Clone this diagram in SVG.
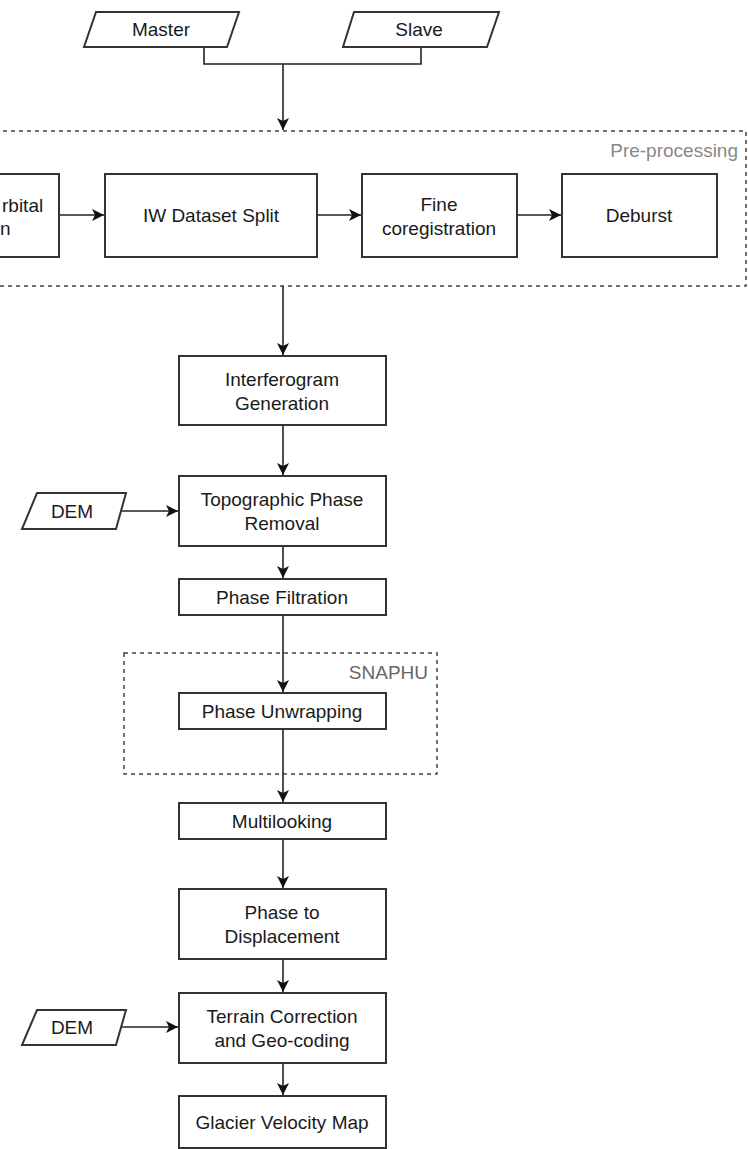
<svg xmlns="http://www.w3.org/2000/svg" width="748" height="1149" viewBox="0 0 748 1149">
<defs>
<style>
.box{fill:#fff;stroke:#333;stroke-width:2}
.grp{fill:none;stroke:#444;stroke-width:1.5;stroke-dasharray:4 4}
.t{font-family:"Liberation Sans",Arial,sans-serif;font-size:19px;fill:#1a1a1a;text-anchor:middle}
.lbl{font-family:"Liberation Sans",Arial,sans-serif;font-size:19px;fill:#888;text-anchor:end}
.ln{fill:none;stroke:#222;stroke-width:1.6}
</style>
<marker id="ah" viewBox="0 0 10 10" refX="10" refY="5" markerWidth="12" markerHeight="12" markerUnits="userSpaceOnUse" orient="auto">
<path d="M0,0 L10,5 L0,10 L2.5,5 Z" fill="#111"/>
</marker>
</defs>
<rect width="748" height="1149" fill="#fff"/>

<g id="group-preprocessing">
<rect class="grp" x="-5" y="131" width="751" height="155"/>
<text class="lbl" x="738" y="157">Pre-processing</text>
</g>
<g id="group-snaphu">
<rect class="grp" x="124" y="653" width="313" height="121"/>
<text class="lbl" x="428" y="679" style="fill:#666">SNAPHU</text>
</g>

<g id="connectors">
<path class="ln" d="M204,47 V64 H421 V47"/>
<path class="ln" d="M283,64 V130" marker-end="url(#ah)"/>
<path class="ln" d="M59,215 H104" marker-end="url(#ah)"/>
<path class="ln" d="M317,215 H361" marker-end="url(#ah)"/>
<path class="ln" d="M517,215 H561" marker-end="url(#ah)"/>
<path class="ln" d="M283,286 V355" marker-end="url(#ah)"/>
<path class="ln" d="M283,425 V475" marker-end="url(#ah)"/>
<path class="ln" d="M121,511 H178" marker-end="url(#ah)"/>
<path class="ln" d="M283,546 V578" marker-end="url(#ah)"/>
<path class="ln" d="M283,615 V692" marker-end="url(#ah)"/>
<path class="ln" d="M283,729 V802" marker-end="url(#ah)"/>
<path class="ln" d="M283,839 V888" marker-end="url(#ah)"/>
<path class="ln" d="M283,959 V992" marker-end="url(#ah)"/>
<path class="ln" d="M121,1027 H178" marker-end="url(#ah)"/>
<path class="ln" d="M283,1063 V1095" marker-end="url(#ah)"/>
</g>

<g id="master">
<polygon class="box" points="96,12 239,12 227,47 84,47"/>
<text class="t" x="161" y="36">Master</text>
</g>
<g id="slave">
<polygon class="box" points="354,12 499,12 487,47 343,47"/>
<text class="t" x="419" y="36">Slave</text>
</g>

<g id="orbital">
<rect class="box" x="-96" y="174" width="155" height="83"/>
<text class="t" x="2" y="212" style="text-anchor:start">rbital</text>
<text class="t" x="0" y="235" style="text-anchor:start">n</text>
</g>
<g id="iw-split">
<rect class="box" x="105" y="174" width="212" height="83"/>
<text class="t" x="211" y="222">IW Dataset Split</text>
</g>
<g id="fine-coreg">
<rect class="box" x="362" y="174" width="155" height="83"/>
<text class="t" x="439" y="211">Fine</text>
<text class="t" x="439" y="235">coregistration</text>
</g>
<g id="deburst">
<rect class="box" x="562" y="174" width="155" height="83"/>
<text class="t" x="639" y="222">Deburst</text>
</g>

<g id="interferogram">
<rect class="box" x="179" y="356" width="207" height="69"/>
<text class="t" x="282" y="386">Interferogram</text>
<text class="t" x="282" y="410">Generation</text>
</g>
<g id="dem1">
<polygon class="box" points="37,493 126,493 116,529 22,529"/>
<text class="t" x="72" y="518">DEM</text>
</g>
<g id="topographic">
<rect class="box" x="179" y="476" width="207" height="70"/>
<text class="t" x="282" y="506">Topographic Phase</text>
<text class="t" x="282" y="530">Removal</text>
</g>
<g id="filtration">
<rect class="box" x="179" y="579" width="207" height="36"/>
<text class="t" x="282" y="604">Phase Filtration</text>
</g>
<g id="unwrapping">
<rect class="box" x="179" y="693" width="207" height="36"/>
<text class="t" x="282" y="718">Phase Unwrapping</text>
</g>
<g id="multilooking">
<rect class="box" x="179" y="803" width="207" height="36"/>
<text class="t" x="282" y="828">Multilooking</text>
</g>
<g id="phase-displacement">
<rect class="box" x="179" y="889" width="207" height="70"/>
<text class="t" x="282" y="919">Phase to</text>
<text class="t" x="282" y="943">Displacement</text>
</g>
<g id="dem2">
<polygon class="box" points="37,1010 126,1010 116,1045 22,1045"/>
<text class="t" x="72" y="1034">DEM</text>
</g>
<g id="terrain">
<rect class="box" x="179" y="993" width="207" height="70"/>
<text class="t" x="282" y="1023">Terrain Correction</text>
<text class="t" x="282" y="1047">and Geo-coding</text>
</g>
<g id="velocity-map">
<rect class="box" x="179" y="1096" width="207" height="52"/>
<text class="t" x="282" y="1129">Glacier Velocity Map</text>
</g>
</svg>
